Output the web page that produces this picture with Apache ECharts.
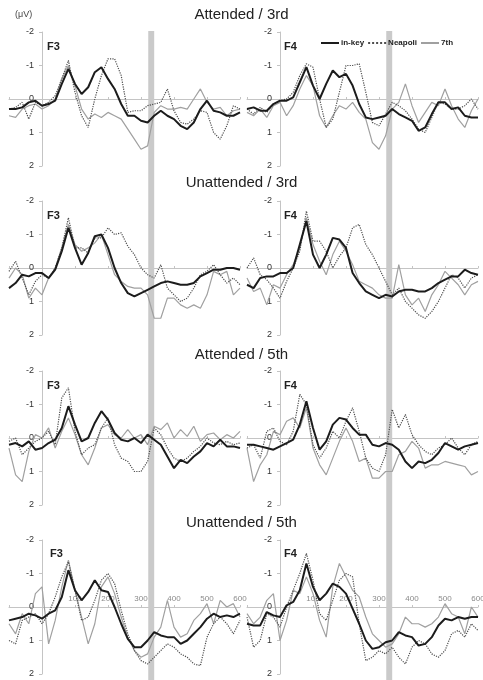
<!DOCTYPE html>
<html>
<head>
<meta charset="utf-8">
<script src="https://cdn.jsdelivr.net/npm/echarts@6/dist/echarts.min.js"></script>
<style>
  html, body { margin: 0; padding: 0; background: #fff; }
  #chart { width: 483px; height: 680px; }
</style>
</head>
<body>
<div id="chart"></div>
<script>
// time points (ms)
const times = [-100,-80,-60,-40,-20,0,20,40,60,80,100,120,140,160,180,200,220,240,260,280,300,320,340,360,380,400,420,440,460,480,500,520,540,560,580,600];

// Attended / 3rd
const att3F3InKey = [0.3,0.3,0.25,0.1,0.05,0.2,0.15,0.05,-0.45,-0.9,-0.45,-0.15,-0.35,-0.8,-0.95,-0.6,-0.3,0.15,0.5,0.5,0.65,0.7,0.5,0.35,0.5,0.6,0.8,0.9,0.7,0.3,0.05,0.35,0.4,0.5,0.5,0.4];
const att3F3Neap  = [0.3,0.25,0.1,0.6,0.1,0.2,0.1,-0.1,-0.6,-1.15,-0.2,0.5,0.85,0.0,-0.7,-1.2,-1.2,-0.7,0.4,0.35,0.35,0.2,0.15,0.1,-0.3,0.35,0.7,0.75,0.6,0.35,0.4,1.0,1.2,0.8,0.2,0.3];
const att3F3Sev   = [0.5,0.55,0.3,0.2,0.15,0.3,0.2,0.0,-0.6,-1.0,-0.4,0.3,0.6,0.45,0.55,0.4,0.5,0.6,0.9,1.2,1.5,1.4,0.4,0.2,0.3,0.3,0.25,0.3,0.0,-0.3,0.1,0.3,0.25,0.5,0.35,0.3];
const att3F4InKey = [0.3,0.25,0.35,0.35,0.15,0.05,0.05,-0.05,-0.5,-0.95,-0.4,0.0,-0.45,-0.85,-0.65,-0.75,-0.4,0.15,0.55,0.6,0.55,0.5,0.3,0.45,0.55,0.65,0.95,0.85,0.45,0.1,0.1,0.3,0.25,0.5,0.55,0.55];
const att3F4Neap  = [0.3,0.45,0.25,0.4,0.15,0.05,0.0,-0.2,-0.7,-1.05,-0.95,0.0,0.85,0.6,-0.2,-1.0,-1.0,-1.05,-0.2,0.7,0.8,0.45,0.1,0.2,0.35,0.6,0.9,1.0,0.55,0.1,0.15,0.3,0.3,0.2,0.0,0.3];
const att3F4Sev   = [0.4,0.5,0.3,0.55,0.2,0.1,0.5,0.2,-0.3,-0.7,-0.4,0.5,0.85,0.5,0.2,0.3,0.1,0.4,0.6,1.3,1.5,1.1,0.3,0.1,-0.45,0.2,0.7,0.4,0.1,0.2,-0.3,0.2,0.6,0.85,0.35,0.0];

// Unattended / 3rd
const un3F3InKey = [0.6,0.45,0.2,0.25,0.15,0.15,0.3,0.05,-0.5,-1.2,-0.6,-0.1,-0.45,-0.95,-1.0,-0.6,0.0,0.45,0.75,0.85,0.75,0.65,0.55,0.45,0.4,0.45,0.5,0.5,0.45,0.25,0.15,0.05,0.05,0.0,0.0,0.05];
const un3F3Neap  = [0.1,-0.2,0.3,0.8,0.4,0.2,0.3,0.0,-0.6,-1.5,-0.6,-0.6,-0.45,-0.9,-0.9,-1.2,-1.0,-1.05,-0.65,-0.4,0.0,0.2,0.3,-0.1,0.6,0.8,1.0,0.9,0.6,0.2,0.1,-0.1,0.2,0.45,0.3,0.5];
const un3F3Sev   = [0.3,0.0,0.2,0.9,0.6,0.8,0.3,0.0,-0.6,-1.3,-0.7,-0.5,-0.6,-0.75,-1.0,-0.4,0.2,0.4,0.55,0.6,0.6,0.8,1.5,1.5,0.9,0.9,1.1,1.2,1.1,1.2,0.8,0.1,0.2,0.1,0.8,0.6];
const un3F4InKey = [0.5,0.6,0.3,0.25,0.25,0.15,0.15,0.0,-0.7,-1.4,-0.4,0.0,-0.4,-0.9,-0.85,-0.6,0.15,0.45,0.7,0.8,0.9,0.8,0.85,0.7,0.65,0.65,0.7,0.7,0.6,0.45,0.35,0.25,0.25,0.05,0.15,0.2];
const un3F4Neap  = [0.0,-0.3,0.2,0.35,0.6,0.9,0.4,0.0,-0.5,-1.7,-0.8,-0.8,-0.5,0.0,-0.35,-0.6,-1.2,-1.3,-0.7,-0.4,0.0,0.4,0.8,0.6,1.0,1.2,1.4,1.5,1.3,1.0,0.6,0.2,0.3,0.6,0.3,0.2];
const un3F4Sev   = [0.3,0.7,0.6,1.1,0.5,0.6,0.2,-0.1,-0.6,-1.5,-0.7,-0.2,0.2,-0.4,-0.8,-0.5,-0.1,0.4,0.5,0.6,0.8,0.9,0.9,-0.1,0.8,1.1,0.9,1.3,0.8,0.5,0.1,0.3,0.5,0.8,0.5,0.4];

// Attended / 5th
const att5F3InKey = [0.2,0.15,0.25,0.1,0.35,0.3,0.15,0.05,-0.3,-0.95,-0.4,0.1,0.0,-0.45,-0.8,-0.55,-0.15,0.05,0.1,0.0,0.15,-0.1,0.05,0.2,0.55,0.9,0.65,0.75,0.55,0.4,0.15,0.25,0.05,0.25,0.25,0.3];
const att5F3Neap  = [0.1,0.0,0.5,0.3,0.1,0.0,-0.2,0.2,-1.2,-1.5,-0.2,0.5,0.3,0.2,-0.3,-0.6,0.2,0.6,0.7,1.0,1.0,0.7,-0.3,-0.1,0.3,0.6,0.7,0.6,0.4,0.25,0.0,0.15,0.2,0.1,0.2,0.15];
const att5F3Sev   = [0.3,1.1,1.3,0.4,-0.1,0.0,-0.3,0.3,-0.2,-0.6,-0.1,0.5,0.8,0.3,-0.3,-0.4,-0.1,0.0,-0.25,0.0,-0.1,0.2,-0.35,-0.25,-0.45,0.0,-0.25,-0.05,-0.35,0.1,-0.1,-0.15,0.05,-0.1,0.0,-0.2];
const att5F4InKey = [0.2,0.2,0.25,0.3,0.35,0.25,0.15,0.05,-0.4,-1.1,-0.3,0.35,0.1,-0.4,-0.6,-0.55,-0.3,-0.1,-0.1,0.2,0.25,0.15,0.2,0.35,0.7,0.9,0.7,0.75,0.65,0.45,0.15,0.25,0.35,0.25,0.2,0.15];
const att5F4Neap  = [0.3,0.2,0.6,-0.2,-0.3,0.1,0.2,-0.2,-1.3,-1.0,0.2,0.6,0.3,-0.2,0.0,-0.5,-0.9,-0.2,0.6,0.9,1.0,0.5,-0.85,-0.3,-0.7,-0.1,0.2,0.4,0.5,0.3,0.2,0.0,0.3,0.5,0.2,0.1];
const att5F4Sev   = [0.3,1.3,0.8,0.5,-0.2,-0.1,-0.5,-0.6,-0.3,-0.9,0.3,0.8,1.1,0.6,0.1,-0.3,0.1,0.7,0.6,1.2,1.2,1.0,1.0,0.5,0.4,0.1,0.3,0.9,0.8,0.8,0.7,0.75,0.8,0.85,1.1,1.0];

// Unattended / 5th
const un5F3InKey = [0.4,0.35,0.3,0.2,0.25,0.35,0.2,0.1,-0.3,-1.1,-0.5,-0.2,-0.45,-0.8,-0.5,-0.45,0.0,0.5,0.95,1.2,1.2,1.0,0.75,0.85,0.9,0.9,1.1,1.0,0.8,0.6,0.35,0.2,0.3,0.25,0.3,0.2];
const un5F3Neap  = [1.0,1.1,0.4,0.3,0.2,0.5,0.2,-0.3,-0.9,-1.35,-0.5,0.4,0.3,-0.2,-0.8,-1.0,-0.7,0.1,0.8,1.3,1.6,1.7,1.5,1.3,1.1,1.2,1.4,1.5,1.7,1.75,0.9,0.5,0.3,0.5,0.8,0.4];
const un5F3Sev   = [0.5,0.8,0.2,0.5,-0.4,-0.6,1.1,0.4,-0.6,-1.4,-0.5,0.3,1.1,0.5,-0.6,-0.9,-0.4,0.3,0.9,1.3,1.5,1.4,0.9,0.6,-0.2,0.6,0.9,0.8,0.4,0.2,-0.1,0.5,-0.2,0.0,-0.1,0.3];
const un5F4InKey = [0.5,0.55,0.55,0.15,0.25,0.3,-0.05,-0.15,-0.5,-1.3,-0.6,-0.2,-0.4,-0.7,-0.6,-0.4,0.05,0.5,1.0,1.25,1.2,1.05,1.0,0.75,0.85,0.9,1.15,1.1,0.9,0.55,0.35,0.4,0.3,0.35,0.3,0.3];
const un5F4Neap  = [0.3,1.2,1.0,0.2,0.3,0.6,0.0,-0.5,-1.0,-1.6,-0.8,0.2,0.4,-0.2,-0.8,-1.0,-0.9,0.5,1.6,1.5,1.3,1.4,1.2,1.5,1.7,1.2,1.0,1.1,1.4,1.5,1.3,0.8,0.7,0.9,0.5,0.7];
const un5F4Sev   = [0.2,0.5,0.3,-0.2,-0.4,1.0,0.4,-0.5,-0.4,-0.9,-0.4,0.4,0.9,-0.6,-1.3,-0.9,-0.5,-0.3,0.3,0.8,1.0,1.2,1.1,0.8,0.3,0.5,0.5,0.6,0.5,0.3,-0.1,0.2,0.3,0.8,0.0,0.3];

const rowTitles = ['Attended / 3rd', 'Unattended / 3rd', 'Attended / 5th', 'Unattended / 5th'];
const electrodes = ['F3', 'F4'];
const conditions = ['in-key', 'Neapoli', '7th'];
const xTickLabels = [100, 200, 300, 400, 500, 600];
const band = [322, 340];

// panels[row][col] = [inKey, neapolitan, seventh]
const panels = [
  [[att3F3InKey, att3F3Neap, att3F3Sev], [att3F4InKey, att3F4Neap, att3F4Sev]],
  [[un3F3InKey, un3F3Neap, un3F3Sev], [un3F4InKey, un3F4Neap, un3F4Sev]],
  [[att5F3InKey, att5F3Neap, att5F3Sev], [att5F4InKey, att5F4Neap, att5F4Sev]],
  [[un5F3InKey, un5F3Neap, un5F3Sev], [un5F4InKey, un5F4Neap, un5F4Sev]]
];

// layout
const colLeft = [9, 247];
const plotW = 231;
const rowTop = [32, 201, 371, 540];
const plotH = 134;
const titleTop = [7, 175, 347, 515];
const labelTop = [41, 210, 380, 548];
const labelLeft = [[47, 284], [47, 284], [47, 284], [50, 284]];
// axes sit at t = 0 and at 0 uV, i.e. inside the plot area
const yAxisShift = -plotW * 100 / 700;
const xAxisShift = -plotH / 2;

const lineStyles = [
  { color: '#1c1c1c', width: 2, type: 'solid', z: 5 },
  { color: '#4d4d4d', width: 1.2, type: 'dotted', z: 4 },
  { color: '#a0a0a0', width: 1.2, type: 'solid', z: 3 }
];

const font = 'Liberation Sans, Arial, sans-serif';
const grid = [], xAxis = [], yAxis = [], series = [], graphic = [];

panels.forEach((row, r) => {
  row.forEach((sets, c) => {
    const idx = grid.length;
    grid.push({ left: colLeft[c], top: rowTop[r], width: plotW, height: plotH, outerBoundsMode: 'none' });
    xAxis.push({
      gridIndex: idx, type: 'value', min: -100, max: 600, interval: 100,
      position: 'top', offset: xAxisShift,
      axisLine: { onZero: false, lineStyle: { color: '#c4c4c4', width: 1 } },
      axisTick: { show: true, length: 2, lineStyle: { color: '#c4c4c4' } },
      axisLabel: {
        show: r === 3, fontSize: 8, color: '#8a8a8a', margin: 4,
        formatter: v => xTickLabels.includes(v) ? String(v) : ''
      },
      splitLine: { show: false }
    });
    yAxis.push({
      gridIndex: idx, type: 'value', inverse: true, min: -2, max: 2, interval: 1,
      position: 'left', offset: yAxisShift,
      axisLine: { show: true, onZero: false, lineStyle: { color: '#c4c4c4', width: 1 } },
      axisTick: { show: true, length: 3, lineStyle: { color: '#c4c4c4' } },
      axisLabel: { fontSize: 9, color: '#333', margin: 8 },
      splitLine: { show: false }
    });
    sets.forEach((vals, k) => {
      const st = lineStyles[k];
      series.push({
        name: conditions[k], type: 'line', xAxisIndex: idx, yAxisIndex: idx,
        data: times.map((t, i) => [t, vals[i]]),
        symbol: 'none', showSymbol: false, z: st.z,
        lineStyle: { color: st.color, width: st.width, type: st.type },
        itemStyle: { color: st.color }
      });
    });
    graphic.push({
      type: 'text', left: labelLeft[r][c], top: labelTop[r],
      style: { text: electrodes[c], font: 'bold 11px ' + font, fill: '#222' }
    });
  });
});

// tall band grids, one per column, for the grey time window
colLeft.forEach((left, c) => {
  const idx = grid.length;
  grid.push({ left: left, top: 31, width: plotW, height: 649, outerBoundsMode: 'none' });
  xAxis.push({ gridIndex: idx, type: 'value', min: -100, max: 600, show: false });
  yAxis.push({ gridIndex: idx, type: 'value', min: 0, max: 1, show: false });
  series.push({
    type: 'line', xAxisIndex: idx, yAxisIndex: idx, data: [], silent: true, z: 1,
    markArea: {
      silent: true,
      itemStyle: { color: '#cacaca' },
      data: [[{ xAxis: band[0] }, { xAxis: band[1] }]]
    }
  });
});

graphic.push({
  type: 'text', left: 15, top: 10,
  style: { text: '(\u03bcV)', font: '9px ' + font, fill: '#444' }
});

const chart = echarts.init(document.getElementById('chart'));
chart.setOption({
  animation: false,
  backgroundColor: '#fff',
  textStyle: { fontFamily: font },
  title: rowTitles.map((t, r) => ({
    text: t, left: 'center', top: titleTop[r], padding: 0,
    textStyle: { fontSize: 15, fontWeight: 'normal', color: '#222', fontFamily: font }
  })),
  legend: {
    data: conditions, left: 320, top: 39, padding: 0,
    itemWidth: 18, itemHeight: 8, itemGap: 3,
    itemStyle: { opacity: 0 },
    textStyle: { fontSize: 8, fontWeight: 'bold', color: '#222', padding: [0, 0, 0, -3] }
  },
  grid, xAxis, yAxis, series, graphic
});
</script>
</body>
</html>
